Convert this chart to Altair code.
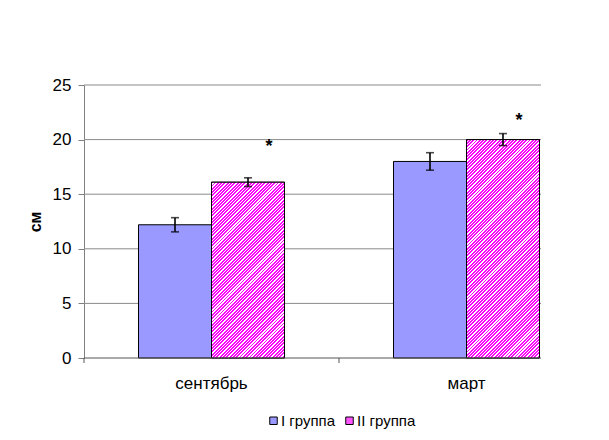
import altair as alt
import pandas as pd

# ---- data ----
categories = ["сентябрь", "март"]
groups = ["I группа", "II группа"]
values_g1 = [12.2, 18.0]
values_g2 = [16.1, 20.0]
err_g1 = [0.65, 0.8]
err_g2 = [0.4, 0.55]
star_y = [19.8, 22.2]
y_ticks = [0, 5, 10, 15, 20, 25]
grid_ticks = [5, 10, 15, 20, 25]

FONT = "Liberation Sans"
W, H = 457, 273
STEP = 255
OUTER = 0.7466
YMAX = 25

rows = []
for i, c in enumerate(categories):
    rows.append(dict(cat=c, grp=groups[0], value=values_g1[i],
                     lo=values_g1[i] - err_g1[i], hi=values_g1[i] + err_g1[i]))
    rows.append(dict(cat=c, grp=groups[1], value=values_g2[i],
                     lo=values_g2[i] - err_g2[i], hi=values_g2[i] + err_g2[i]))
df = pd.DataFrame(rows)
df_star = pd.DataFrame(dict(cat=categories, grp=[groups[1]] * 2, sy=star_y))
df_grid = pd.DataFrame(dict(v=grid_ticks))
df_cat = pd.DataFrame(dict(cat=categories))
df_one = pd.DataFrame(dict(k=[0]))

x_scale = alt.Scale(domain=categories, range=[0, 2 * STEP], paddingInner=0, paddingOuter=0)
x_axis = alt.Axis(title=None, labelAngle=0, domain=False, ticks=False, grid=False,
                  labelPadding=30, labelBaseline="alphabetic", labelFontSize=17,
                  labelFont=FONT, labelColor="black")
y_scale = alt.Scale(domain=[0, YMAX], nice=False, zero=True)
y_axis = alt.Axis(values=y_ticks, title="см", titleFont=FONT, titleFontSize=16,
                  titleFontWeight="bold", titleColor="black", titleX=-49, titleY=H / 2,
                  titleAlign="center", titleBaseline="middle", titleAngle=270,
                  grid=False, domainColor="#808080", tickColor="#808080", tickSize=6,
                  labelPadding=7, labelFontSize=17, labelFont=FONT, labelColor="black")
xo = alt.XOffset("grp:N", sort=groups,
                 scale=alt.Scale(domain=groups, paddingInner=0, paddingOuter=OUTER))


def X(**kw):
    return alt.X("cat:N", sort=categories, scale=x_scale, axis=x_axis, **kw)


def Y(field):
    return alt.Y(field, scale=y_scale, axis=y_axis)


grid = alt.Chart(df_grid).mark_rule(color="#8a8a8a", strokeWidth=1).encode(
    y=Y("v:Q"), x=alt.value(0), x2=alt.value(W))

bars = alt.Chart(df).mark_bar(stroke="black", strokeWidth=1).encode(
    x=X(), xOffset=xo, y=Y("value:Q"),
    color=alt.Color("grp:N", sort=groups,
                    scale=alt.Scale(domain=groups, range=["#9999ff", "#ff55ff"]),
                    legend=alt.Legend(title=None, orient="none", legendX=182, legendY=328,
                                      direction="horizontal", symbolType="square",
                                      symbolSize=56, symbolStrokeColor="black",
                                      symbolStrokeWidth=1, labelFontSize=15, labelFont=FONT,
                                      labelColor="black", labelOffset=0, columnPadding=6,
                                      padding=0)))

bw = STEP / (2 + 2 * OUTER)
PERIOD = 3.3
FRAC = 0.58


def hatch(h):
    w = bw
    t = (w + h) / (w * w + h * h)
    n = int(round((w + h) / PERIOD))
    stops = []
    for k in range(n):
        a = k / n
        m = (k + FRAC) / n
        b = (k + 1) / n
        stops += [dict(offset=a, color="#ff00ff"), dict(offset=m, color="#ff00ff"),
                  dict(offset=m, color="#ffffff"), dict(offset=b, color="#ffffff")]
    return dict(gradient="linear", x1=0, y1=0, x2=w * t, y2=h * t, stops=stops)


pink_layers = []
for i, c in enumerate(categories):
    h = values_g2[i] / YMAX * H
    pink_layers.append(
        alt.Chart(df).transform_filter(
            (alt.datum.cat == c) & (alt.datum.grp == groups[1])
        ).mark_bar(fill=hatch(h), stroke="black", strokeWidth=1).encode(
            x=X(), xOffset=xo, y=Y("value:Q")))

err = alt.Chart(df).mark_rule(color="black", strokeWidth=1.6).encode(
    x=X(), xOffset=xo, y=Y("lo:Q"), y2="hi:Q")
cap_hi = alt.Chart(df).mark_tick(color="black", thickness=1.6, size=8).encode(
    x=X(), xOffset=xo, y=Y("hi:Q"))
cap_lo = alt.Chart(df).mark_tick(color="black", thickness=1.6, size=8).encode(
    x=X(), xOffset=xo, y=Y("lo:Q"))

star_dx = [21, 16]
stars = []
for i, c in enumerate(categories):
    stars.append(
        alt.Chart(df_star).transform_filter(alt.datum.cat == c).mark_text(
            text="*", font=FONT, fontSize=18, fontWeight="bold", color="black",
            dx=star_dx[i], dy=10, baseline="alphabetic", align="center").encode(
            x=X(), xOffset=xo, y=Y("sy:Q")))

xticks = alt.Chart(df_cat).mark_rule(color="#555555", strokeWidth=1).encode(
    x=X(bandPosition=0), y=alt.value(H), y2=alt.value(H + 5))
xline = alt.Chart(df_one).mark_rule(color="#555555", strokeWidth=1).encode(
    x=alt.value(0), x2=alt.value(W), y=alt.value(H))

chart = alt.layer(grid, bars, *pink_layers, xline, xticks, err, cap_hi, cap_lo, *stars).properties(
    width=W, height=H,
    autosize=alt.AutoSizeParams(type="none"),
    padding={"left": 76, "top": 77, "right": 60, "bottom": 80},
    background="white",
).configure_view(stroke=None)

chart.save("out.html", embed_options={"renderer": "svg", "actions": False})
